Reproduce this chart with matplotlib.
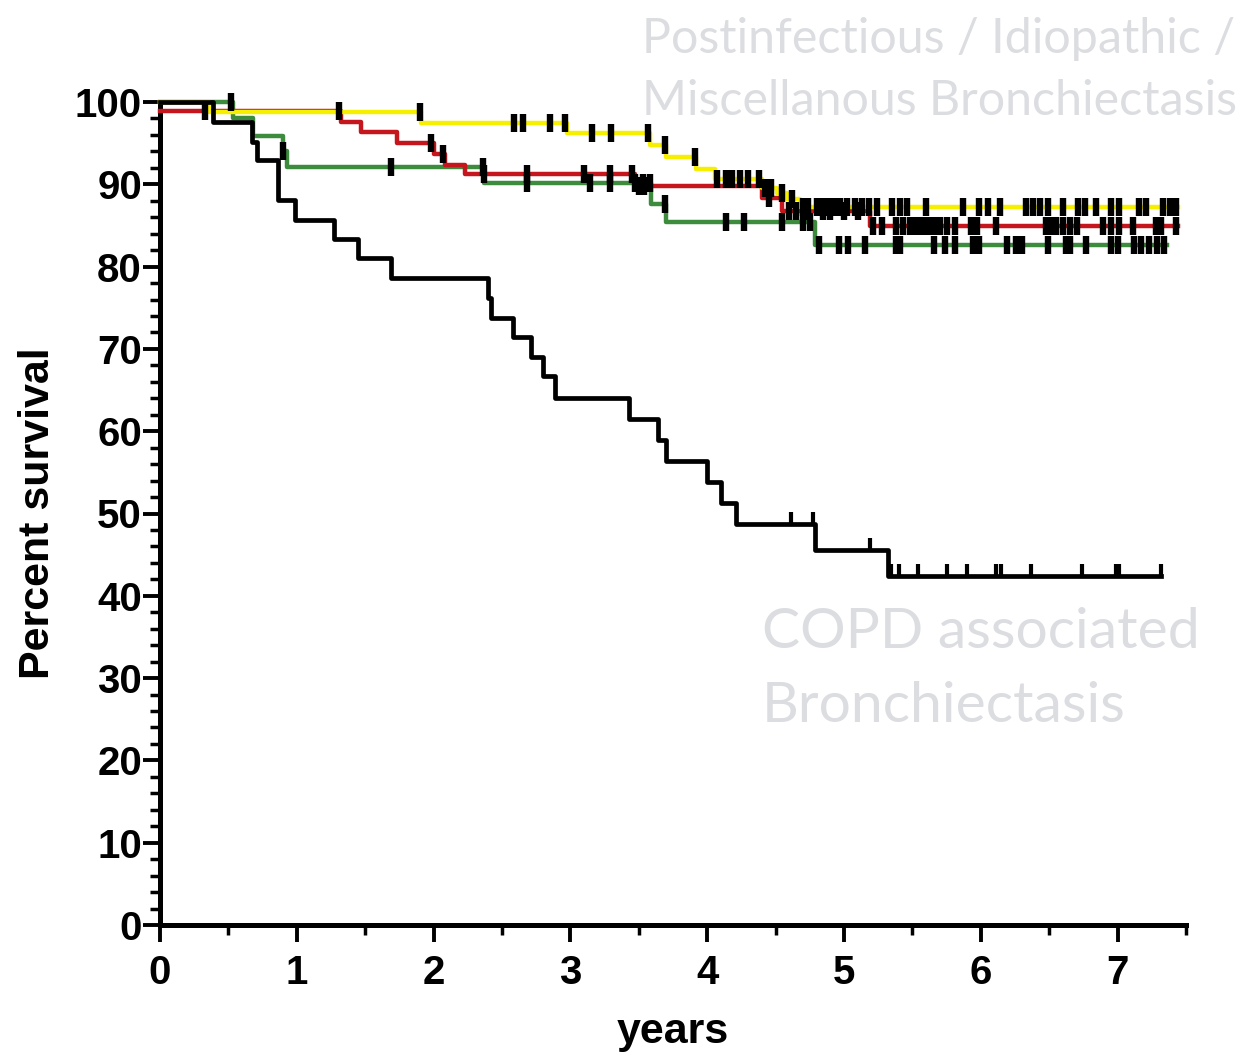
import numpy as np
import matplotlib
matplotlib.use('Agg')
import matplotlib.pyplot as plt
from matplotlib.path import Path
from matplotlib.ticker import MultipleLocator

# Kaplan-Meier step data (years, percent survival)
copd_t = [0, 0.39, 0.67, 0.71, 0.86, 0.99, 1.27, 1.45, 1.69, 2.40, 2.42, 2.58, 2.71,
          2.80, 2.885, 3.43, 3.64, 3.70, 4.00, 4.10, 4.21, 4.79, 5.32, 7.32]
copd_s = [100, 97.6, 95.2, 92.9, 88.1, 85.7, 83.3, 81.0, 78.6, 76.2, 73.8, 71.4, 69.0,
          66.7, 64.0, 61.5, 58.9, 56.4, 53.8, 51.3, 48.7, 45.6, 42.4, 42.4]
copd_cens = [4.61, 4.77, 5.19, 5.34, 5.40, 5.54, 5.75, 5.90, 6.11, 6.15, 6.37, 6.74,
             6.99, 7.01, 7.32]

yellow_t = [0, 0.36, 1.91, 2.975, 3.58, 3.70, 3.92, 4.06, 4.40, 4.51, 4.58, 4.68, 7.44]
yellow_s = [100, 98.8, 97.5, 96.2, 94.8, 93.3, 91.9, 90.6, 89.5, 88.9, 88.2, 87.3, 87.3]
yellow_cens = [1.90, 2.59, 2.65, 2.85, 2.96, 3.16, 3.30, 3.57, 3.69, 3.91, 4.07, 4.14,
               4.18, 4.24, 4.30, 4.38, 4.42, 4.47, 4.55, 4.62, 4.70, 4.74, 4.80, 4.84,
               4.88, 4.93, 4.97, 5.02, 5.08, 5.13, 5.18, 5.24, 5.35, 5.41, 5.46, 5.60,
               5.87, 5.99, 6.05, 6.14, 6.33, 6.38, 6.43, 6.49, 6.60, 6.71, 6.76, 6.84,
               6.95, 7.01, 7.16, 7.21, 7.33, 7.38, 7.43]

red_t = [0, 1.32, 1.47, 1.73, 2.00, 2.08, 2.23, 3.47, 4.40, 4.55, 5.19, 7.44]
red_s = [98.9, 97.6, 96.3, 95.0, 93.7, 92.4, 91.2, 89.8, 88.3, 86.8, 84.9, 84.9]
red_cens = [0.33, 1.31, 1.98, 2.07, 2.37, 2.68, 3.10, 3.29, 3.45, 3.50, 3.54, 4.45,
            4.60, 4.65, 4.72, 4.85, 4.90, 5.00, 5.10, 5.21, 5.28, 5.38, 5.43, 5.48,
            5.52, 5.55, 5.59, 5.62, 5.66, 5.70, 5.75, 5.81, 5.93, 5.97, 6.11, 6.48,
            6.51, 6.55, 6.60, 6.65, 6.70, 6.89, 6.95, 7.01, 7.11, 7.28, 7.32, 7.43]

green_t = [0, 0.53, 0.68, 0.90, 0.93, 2.37, 3.59, 3.70, 4.79, 7.36]
green_s = [100, 98.1, 95.9, 94.0, 92.1, 90.1, 87.6, 85.4, 82.6, 82.6]
green_cens = [0.52, 0.90, 1.69, 2.36, 2.68, 3.14, 3.29, 3.47, 3.53, 3.58, 3.69, 4.14,
              4.27, 4.55, 4.70, 4.75, 4.82, 4.96, 5.03, 5.15, 5.38, 5.41, 5.66, 5.74,
              5.81, 5.94, 5.99, 6.19, 6.26, 6.30, 6.49, 6.62, 6.65, 6.77, 6.95, 7.00,
              7.12, 7.17, 7.23, 7.29, 7.34]

x_ticks = [0, 1, 2, 3, 4, 5, 6, 7]
y_ticks = [0, 10, 20, 30, 40, 50, 60, 70, 80, 90, 100]


def level_at(times, surv, pts):
    idx = np.searchsorted(times, pts, side='right') - 1
    return np.array(surv)[idx]


fig = plt.figure(figsize=(12.54, 10.54), dpi=100)
ax = fig.add_axes([160 / 1254, 1 - 925 / 1054, 1026 / 1254, 823 / 1054])

curves = [
    (green_t, green_s, green_cens, '#3d8b3d'),
    (red_t, red_s, red_cens, '#c4161c'),
    (yellow_t, yellow_s, yellow_cens, '#f7ef00'),
]
for t, s, c, col in curves:
    ax.step(t, s, where='post', color=col, lw=3.2, clip_on=False, zorder=3)
for t, s, c, col in curves:
    ax.plot(c, level_at(t, s, c), ls='none', marker='|', ms=13, mew=4.6,
            color='black', clip_on=False, zorder=5)

ax.step(copd_t, copd_s, where='post', color='black', lw=3.4, clip_on=False, zorder=4)
up_tick = Path([(0, 0), (0, 1)])
ax.plot(copd_cens, level_at(copd_t, copd_s, copd_cens), ls='none', marker=up_tick,
        ms=18, mew=3.0, color='black', clip_on=False, zorder=5)

ax.set_xlim(0, 7.5)
ax.set_ylim(0, 100)
ax.set_xticks(x_ticks)
ax.set_yticks(y_ticks)
ax.xaxis.set_minor_locator(MultipleLocator(0.5))
ax.yaxis.set_minor_locator(MultipleLocator(2))

for side in ['top', 'right']:
    ax.spines[side].set_visible(False)
for side in ['left', 'bottom']:
    ax.spines[side].set_linewidth(3.6)

lab_font = dict(family='Liberation Sans', weight='bold')
ax.tick_params(which='major', direction='out', length=12, width=2.8)
ax.tick_params(which='minor', direction='out', length=7, width=2.5)
ax.tick_params(axis='y', which='major', pad=1, labelsize=29)
ax.tick_params(axis='x', which='major', pad=9, labelsize=29)
for lab in ax.get_xticklabels() + ax.get_yticklabels():
    lab.set_fontfamily('Liberation Sans')
    lab.set_fontweight('bold')

ax.set_xlabel('years', fontsize=31, labelpad=14, **lab_font)
ax.set_ylabel('Percent survival', fontsize=31, labelpad=12, **lab_font)

gray = '#dcdde1'
fig.text(642 / 1254, 1 - 53 / 1054, 'Postinfectious / Idiopathic /', color=gray,
         fontsize=34.8, family='Lato', va='baseline')
fig.text(642 / 1254, 1 - 115 / 1054, 'Miscellanous Bronchiectasis', color=gray,
         fontsize=34.8, family='Lato', va='baseline')
fig.text(762 / 1254, 1 - 648 / 1054, 'COPD associated', color=gray,
         fontsize=41, family='Lato', va='baseline')
fig.text(762 / 1254, 1 - 722 / 1054, 'Bronchiectasis', color=gray,
         fontsize=41, family='Lato', va='baseline')

fig.savefig('out.png', dpi=100)
